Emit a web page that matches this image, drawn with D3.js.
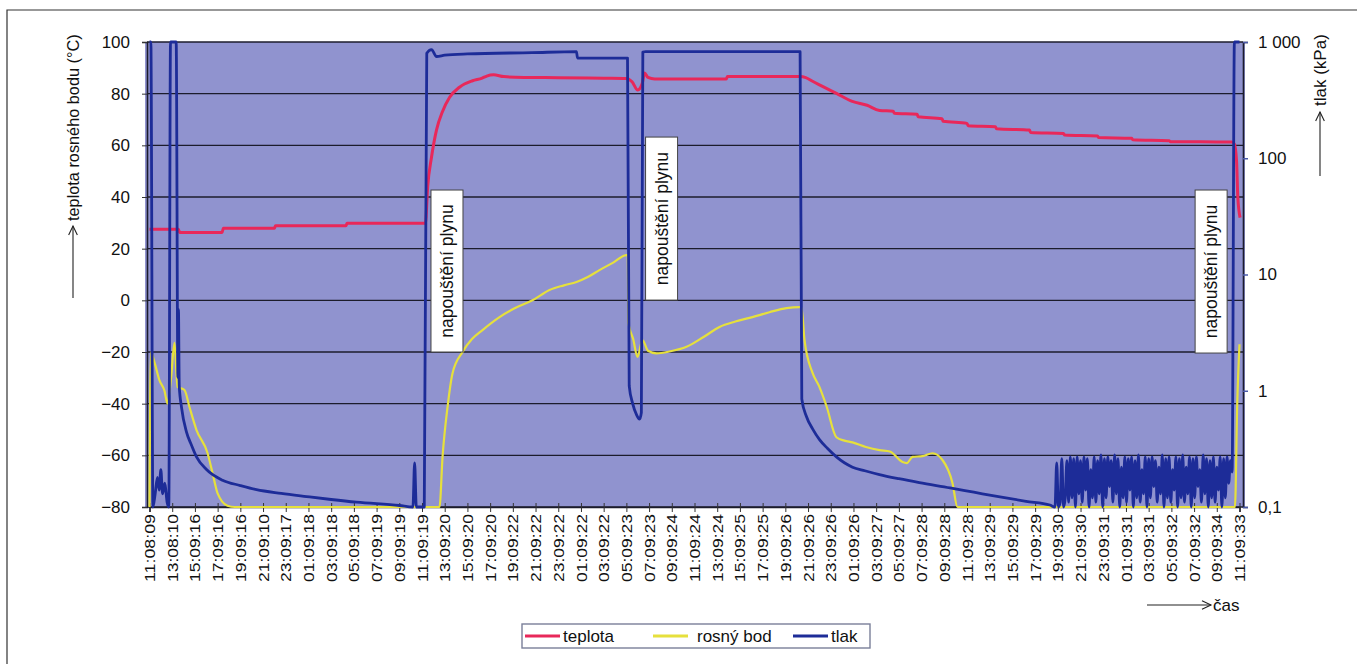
<!DOCTYPE html>
<html><head><meta charset="utf-8">
<script src="https://cdn.jsdelivr.net/npm/d3@7"></script>
<style>
body{margin:0;background:#fff;}
text{font-family:"Liberation Sans",Arial,sans-serif;fill:#111;}
</style>
</head><body>
<svg id="chart" width="1357" height="664"></svg>
<script>
// ---------------- DATA ----------------
const timeLabels = ["11:08:09","13:08:10","15:09:16","17:09:16","19:09:16","21:09:10","23:09:17","01:09:18","03:09:18","05:09:18","07:09:19","09:09:19","11:09:19","13:09:20","15:09:20","17:09:20","19:09:22","21:09:22","23:09:22","01:09:22","03:09:22","05:09:23","07:09:23","09:09:24","11:09:24","13:09:24","15:09:25","17:09:25","19:09:26","21:09:26","23:09:26","01:09:26","03:09:27","05:09:27","07:09:28","09:09:28","11:09:28","13:09:29","15:09:29","17:09:29","19:09:30","21:09:30","23:09:31","01:09:31","03:09:31","05:09:32","07:09:32","09:09:34","11:09:33"];
const tempTicks = [100,80,60,40,20,0,-20,-40,-60,-80];
const pressureTicks = [1000,100,10,1,0.1];
const pressureTickLabels = ["1 000","100","10","1","0,1"];

// [hours from start, °C]
const teplota = [[0,27.5],[2.55,27.5],[2.65,26.3],[6.4,26.3],[6.5,27.9],[11.0,27.9],[11.1,28.9],[17.3,28.9],[17.4,29.8],[24.3,29.8],[24.5,44],[24.84,55.5],[25.28,66],[25.8,73],[26.42,78.5],[27.3,82.5],[28.45,85],[29.3,86],[29.7,86.8],[30.3,87.3],[31.2,86.6],[33,86.3],[36,86.2],[40,86],[42.0,85.9],[42.5,84.6],[43.0,81.4],[43.4,84],[43.6,88],[43.9,86.3],[44.5,85.7],[50.8,85.7],[50.9,86.6],[57.3,86.6],[57.8,86.2],[58.4,84.8],[59.0,83.4],[60.5,80.1],[61.9,77],[63.2,75.5],[64.3,73.5],[65.5,73.2],[65.6,72.4],[67.6,72],[67.7,71.1],[69.8,70.3],[69.9,69.3],[72,68.5],[72.1,67.6],[74.5,67.2],[74.6,66.4],[77.5,65.9],[77.6,65],[80.5,64.6],[80.6,64],[83.5,63.6],[83.6,63],[86.5,62.7],[86.6,62.2],[89.8,61.8],[89.9,61.4],[95.3,61.3],[95.55,60.5],[95.74,54],[95.85,40],[96.05,32]];

// [hours from start, °C]
const rosnyBod = [[0,-80],[0.12,-20],[0.44,-24],[0.88,-31],[1.32,-35],[1.59,-40],[1.9,-30],[2.2,-16.5],[2.47,-33.5],[3.08,-34.7],[3.52,-41.3],[4.14,-50.2],[5.11,-59.1],[5.55,-66.8],[5.99,-74.6],[6.87,-79.5],[7.5,-80],[25.54,-80],[25.81,-60.6],[26.25,-41.3],[26.69,-28.2],[27.57,-20],[28.4,-15],[29.33,-11.5],[30.83,-6.5],[32.2,-3],[33.73,0],[35.23,4],[36.5,5.8],[37.61,7.1],[38.6,9],[39.63,11.7],[40.8,14.5],[42.01,17.5],[42.12,17.5],[42.18,-8.8],[42.6,-15],[42.98,-21.9],[43.42,-15.4],[43.9,-19.5],[44.65,-20.5],[45.8,-19.8],[47.3,-18],[48.8,-14.2],[50.2,-10.3],[51.6,-8.2],[53.1,-6.5],[54.6,-4.6],[56.1,-3],[57.25,-2.6],[57.42,-2.6],[57.69,-15.4],[58.39,-28],[59.0,-33.5],[59.63,-41],[60.5,-53],[61.2,-54.3],[61.92,-55],[63.1,-56.8],[64.3,-58],[65.2,-58.5],[66.32,-62.6],[66.7,-63],[67.2,-60.6],[68.08,-60.3],[68.96,-59.2],[69.84,-61.8],[70.72,-70.7],[71.16,-80],[95.6,-80],[95.8,-40],[96,-17]];

// [hours from start, kPa]
const tlak = [[0,1000],[0.12,1000],[0.3,0.1],[0.5,0.13],[0.7,0.18],[0.85,0.14],[1.0,0.21],[1.15,0.13],[1.35,0.16],[1.55,0.11],[1.7,0.1],[1.85,1000],[2.35,1000],[2.5,1.3],[2.55,5],[2.62,1.1],[2.82,0.72],[3.26,0.44],[3.7,0.34],[4.14,0.27],[5.02,0.21],[6.43,0.17],[8.0,0.153],[9.42,0.141],[11.6,0.131],[13.83,0.123],[16,0.116],[18.23,0.11],[22.02,0.103],[23.2,0.1],[23.35,0.24],[23.5,0.1],[24.2,0.1],[24.42,800],[24.84,860],[25.28,750],[26,770],[28,790],[33.7,810],[37.6,825],[37.7,728],[42.1,728],[42.25,1.1],[42.55,0.78],[42.9,0.62],[43.16,0.57],[43.32,0.65],[43.45,820],[43.7,826],[57.3,826],[57.45,0.85],[57.86,0.6],[58.4,0.47],[59.01,0.38],[59.7,0.32],[60.5,0.27],[61.2,0.24],[61.92,0.22],[63.0,0.205],[64.29,0.19],[66.0,0.175],[67.8,0.162],[70.5,0.146],[72.6,0.134],[74.9,0.122],[77.2,0.112],[79.3,0.104],[79.75,0.1]];

// pump cycling section [hours, kPa]
const tlakCycling = [[79.9,0.24],[80.05,0.1],[80.2,0.11],[80.35,0.26],[80.5,0.1],[80.65,0.12],[80.8,0.25],[80.95,0.11],[81.1,0.27],[81.25,0.12],[81.4,0.26],[81.55,0.1],[81.7,0.27],[81.85,0.13],[82.0,0.25],[82.15,0.11],[82.3,0.27],[82.45,0.14],[82.6,0.26],[82.75,0.1],[82.9,0.21],[83.05,0.12],[83.2,0.27],[83.35,0.11],[83.5,0.25],[83.65,0.13],[83.8,0.28],[83.95,0.1],[84.1,0.26],[84.25,0.12],[84.4,0.27],[84.55,0.15],[84.7,0.25],[84.85,0.11],[85.0,0.28],[85.15,0.13],[85.3,0.26],[85.45,0.1],[85.6,0.22],[85.75,0.12],[85.9,0.27],[86.05,0.11],[86.2,0.26],[86.35,0.14],[86.5,0.27],[86.65,0.1],[86.8,0.25],[86.95,0.12],[87.1,0.28],[87.25,0.11],[87.4,0.21],[87.55,0.13],[87.7,0.27],[87.85,0.1],[88.0,0.26],[88.15,0.12],[88.3,0.27],[88.45,0.15],[88.6,0.25],[88.75,0.11],[88.9,0.22],[89.05,0.13],[89.2,0.28],[89.35,0.1],[89.5,0.26],[89.65,0.12],[89.8,0.27],[89.95,0.11],[90.1,0.21],[90.25,0.14],[90.4,0.27],[90.55,0.1],[90.7,0.26],[90.85,0.12],[91.0,0.28],[91.15,0.11],[91.3,0.22],[91.45,0.13],[91.6,0.27],[91.75,0.1],[91.9,0.26],[92.05,0.12],[92.2,0.27],[92.35,0.15],[92.5,0.21],[92.65,0.11],[92.8,0.28],[92.95,0.13],[93.1,0.26],[93.25,0.1],[93.4,0.25],[93.55,0.12],[93.7,0.27],[93.85,0.11],[94.0,0.22],[94.15,0.14],[94.3,0.27],[94.45,0.1],[94.6,0.26],[94.75,0.12],[94.9,0.27],[95.05,0.16],[95.2,0.25],[95.35,0.2],[95.55,1000],[96,1000]];

const annotations = [
  {h:26.2, top:42.7, bottom:-20, text:"napouštění plynu"},
  {h:45.1, top:63.2, bottom:0.1, text:"napouštění plynu"},
  {h:93.5, top:42.7, bottom:-20.4, text:"napouštění plynu"}
];
const legendItems = [
  {name:"teplota", color:"#e8285a"},
  {name:"rosný bod", color:"#e6e03c"},
  {name:"tlak", color:"#1d2c98"}
];

// ---------------- CHART ----------------
const svg = d3.select("#chart");
const C = {red:"#e8285a", yellow:"#e6e03c", blue:"#1d2c98", bg:"#9093cf", grid:"#1c1c2c"};
const pTop = 42, pBottom = 507, pLeft = 147, pRight = 1243;

const x = d3.scaleLinear().domain([0,96]).range([149.5,1239.5]);
const yT = d3.scaleLinear().domain([-80,100]).range([pBottom,pTop]);
const yP = d3.scaleLog().domain([0.1,1000]).range([pBottom,pTop]);

// outer frame
svg.append("path").attr("d","M7,670V10H1360").attr("fill","none").attr("stroke","#333").attr("stroke-width",1.2);

// plot background
svg.append("rect").attr("x",pLeft-2).attr("y",pTop).attr("width",pRight-pLeft+4).attr("height",pBottom-pTop)
  .attr("fill",C.bg);

// horizontal grid
svg.append("g").selectAll("line").data(tempTicks).join("line")
  .attr("x1",pLeft).attr("x2",pRight).attr("y1",d=>yT(d)).attr("y2",d=>yT(d))
  .attr("stroke",C.grid).attr("stroke-width",1.4);

// left axis
const gL = svg.append("g").attr("transform",`translate(${pLeft},0)`)
  .call(d3.axisLeft(yT).tickValues(tempTicks).tickSize(5).tickPadding(12)
    .tickFormat(d=> d<0 ? "\u2212"+Math.abs(d) : d));
gL.select(".domain").attr("stroke",C.grid).attr("stroke-width",1.6);
gL.selectAll(".tick line").attr("stroke","#333");
gL.selectAll(".tick text").attr("font-size",17).attr("fill","#111").attr("font-family","Liberation Sans, Arial, sans-serif");

// right axis
const gR = svg.append("g").attr("transform",`translate(${pRight},0)`)
  .call(d3.axisRight(yP).tickValues(pressureTicks).tickSize(5).tickPadding(10)
    .tickFormat((d,i)=>pressureTickLabels[i]));
gR.select(".domain").attr("stroke",C.grid).attr("stroke-width",1.6);
gR.selectAll(".tick line").attr("stroke","#4a5aa8").attr("stroke-width",1.5);
gR.selectAll(".tick text").attr("font-size",17).attr("fill","#111").attr("font-family","Liberation Sans, Arial, sans-serif");

// bottom axis
const tickHours = timeLabels.map((d,i)=>i*2);
const gB = svg.append("g").attr("transform",`translate(0,${pBottom})`)
  .call(d3.axisBottom(x).tickValues(tickHours).tickSize(5).tickFormat((d,i)=>timeLabels[i]));
gB.select(".domain").attr("stroke",C.grid).attr("stroke-width",1.6);
gB.selectAll(".tick line").attr("stroke","#333").attr("y1",-4).attr("y2",5);
gB.selectAll(".tick text")
  .attr("font-size",14).attr("fill","#111").attr("font-family","Liberation Sans, Arial, sans-serif")
  .attr("text-anchor","end").attr("transform","rotate(-90)")
  .attr("x",-7).attr("y",0).attr("dy","0.36em")
  .attr("textLength",68).attr("lengthAdjust","spacingAndGlyphs");

// lines
const lineT = d3.line().x(d=>x(d[0])).y(d=>yT(d[1])).curve(d3.curveMonotoneX);
const lineP = d3.line().x(d=>x(d[0])).y(d=>yP(d[1])).curve(d3.curveMonotoneX);

svg.append("path").datum(rosnyBod).attr("d",lineT).attr("fill","none")
  .attr("stroke",C.yellow).attr("stroke-width",2.2).attr("stroke-linejoin","round");
svg.append("path").datum(teplota).attr("d",lineT).attr("fill","none")
  .attr("stroke",C.red).attr("stroke-width",3).attr("stroke-linejoin","round");
svg.append("path").datum(tlak.concat(tlakCycling)).attr("d",lineP).attr("fill","none")
  .attr("stroke",C.blue).attr("stroke-width",2.8).attr("stroke-linejoin","round");

// annotation boxes
const ann = svg.append("g").selectAll("g").data(annotations).join("g");
ann.append("rect")
  .attr("x",d=>x(d.h)-16).attr("y",d=>yT(d.top)).attr("width",32).attr("height",d=>yT(d.bottom)-yT(d.top))
  .attr("fill","#fff").attr("stroke","#444").attr("stroke-width",1);
ann.append("text")
  .attr("transform",d=>`translate(${x(d.h)+6},${(yT(d.top)+yT(d.bottom))/2}) rotate(-90)`)
  .attr("text-anchor","middle").attr("font-size",17.5).text(d=>d.text);

// arrow helper
function arrow(x1,y1,x2,y2){
  const g = svg.append("g").attr("stroke","#222").attr("stroke-width",1.1).attr("fill","none");
  g.append("line").attr("x1",x1).attr("y1",y1).attr("x2",x2).attr("y2",y2);
  const a = Math.atan2(y2-y1,x2-x1), L=10, w=0.45;
  g.append("path").attr("d",`M${x2-L*Math.cos(a-w)},${y2-L*Math.sin(a-w)}L${x2},${y2}L${x2-L*Math.cos(a+w)},${y2-L*Math.sin(a+w)}`);
}
// left axis title
arrow(73,298,73,226);
svg.append("text").attr("transform","translate(79,221) rotate(-90)")
  .attr("font-size",16.3).text("teplota rosného bodu (°C)");
// right axis title
arrow(1320,176,1320,112);
svg.append("text").attr("transform","translate(1326,106) rotate(-90)")
  .attr("font-size",17).text("tlak (kPa)");
// x axis title
arrow(1147,605,1211,605);
svg.append("text").attr("x",1213).attr("y",611).attr("font-size",17).text("čas");

// legend
const lg = svg.append("g");
lg.append("rect").attr("x",522).attr("y",624).attr("width",348).attr("height",24)
  .attr("fill","#fff").attr("stroke","#7a7f99").attr("stroke-width",1.4);
const lx = [525,653,793];
const li = lg.selectAll("g").data(legendItems).join("g").attr("transform",(d,i)=>`translate(${lx[i]},636)`);
li.append("line").attr("x1",0).attr("x2",35).attr("stroke",d=>d.color).attr("stroke-width",3);
li.append("text").attr("x",(d,i)=> i===1?44:38).attr("y",6).attr("font-size",17).text(d=>d.name);
</script>
</body></html>
